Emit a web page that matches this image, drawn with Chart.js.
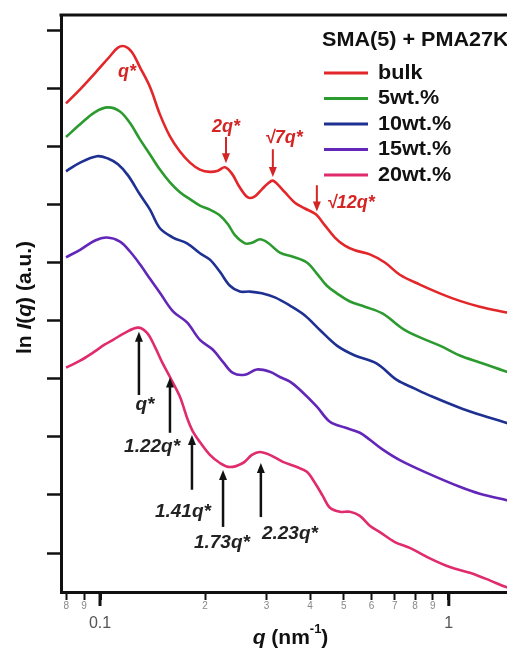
<!DOCTYPE html>
<html>
<head>
<meta charset="utf-8">
<script src="https://cdn.jsdelivr.net/npm/chart.js@4.4.1/dist/chart.umd.min.js"></script>
<style>
  html, body { margin: 0; padding: 0; background: #fff; overflow: hidden; }
  #wrap { width: 530px; height: 650px; }
</style>
</head>
<body>
<div id="wrap"><canvas id="saxs-chart" width="530" height="650"></canvas></div>
<script>
// q in nm^-1, ln I(q) in arbitrary units (curves are offset)
const qBulk = [0.0799,0.0877,0.0968,0.1068,0.1126,0.1179,0.1235,0.1302,0.1391,0.1485,0.1587,0.1695,0.1811,0.1934,0.2066,0.2178,0.2281,0.2389,0.2518,0.2655,0.2780,0.2911,0.3029,0.3130,0.3236,0.3389,0.3620,0.3867,0.4158,0.4413,0.4714,0.5035,0.5379,0.5938,0.6556,0.7237,0.8259,0.9424,1.0753,1.2270,1.4662,1.5974];
const lnBulk = [8.74,8.98,9.26,9.55,9.70,9.72,9.62,9.36,9.02,8.55,8.17,7.91,7.72,7.60,7.56,7.58,7.64,7.53,7.29,7.12,7.14,7.26,7.36,7.41,7.34,7.21,7.03,6.93,6.83,6.64,6.43,6.29,6.21,6.14,6.00,5.79,5.62,5.47,5.34,5.24,5.14,5.09];

const q5 = [0.0799,0.0877,0.0968,0.1054,0.1141,0.1219,0.1302,0.1391,0.1485,0.1587,0.1695,0.1811,0.1934,0.2066,0.2207,0.2327,0.2437,0.2603,0.2726,0.2873,0.3029,0.3279,0.3573,0.3918,0.4185,0.4472,0.4777,0.5204,0.5745,0.6469,0.7384,0.8425,0.9424,1.0753,1.2270,1.4662,1.5974];
const ln5 = [8.16,8.38,8.59,8.67,8.60,8.40,8.12,7.86,7.60,7.38,7.21,7.09,6.98,6.91,6.81,6.66,6.47,6.33,6.34,6.40,6.34,6.17,6.10,6.00,5.81,5.60,5.47,5.33,5.24,5.12,4.86,4.69,4.57,4.40,4.28,4.12,4.05];

const q10 = [0.0799,0.0877,0.0980,0.1054,0.1126,0.1203,0.1302,0.1391,0.1485,0.1619,0.1776,0.1934,0.2066,0.2207,0.2358,0.2518,0.2690,0.2911,0.3172,0.3503,0.3867,0.4270,0.4777,0.5379,0.6219,0.7096,0.7991,0.8822,1.0967,1.3106,1.4662,1.5974];
const ln10 = [7.57,7.72,7.83,7.79,7.69,7.50,7.17,6.91,6.59,6.43,6.33,6.16,6.05,5.84,5.60,5.50,5.50,5.47,5.40,5.26,5.09,4.84,4.57,4.40,4.26,3.98,3.83,3.71,3.48,3.33,3.24,3.17];

const q15 = [0.0799,0.0877,0.0968,0.1047,0.1141,0.1219,0.1302,0.1391,0.1485,0.1619,0.1776,0.1934,0.2107,0.2251,0.2405,0.2603,0.2817,0.3069,0.3279,0.3503,0.3742,0.4185,0.4561,0.5035,0.5559,0.5938,0.6469,0.7237,0.8650,1.0753,1.2270,1.4662,1.5974];
const ln15 = [6.09,6.22,6.38,6.43,6.36,6.19,5.97,5.72,5.48,5.16,4.97,4.67,4.50,4.29,4.10,4.07,4.16,4.12,4.03,3.95,3.81,3.52,3.26,3.16,3.07,2.95,2.78,2.60,2.38,2.14,2.02,1.91,1.86];

const q20 = [0.0799,0.0877,0.0955,0.1033,0.1090,0.1179,0.1285,0.1364,0.1437,0.1505,0.1587,0.1695,0.1776,0.1847,0.1934,0.2066,0.2207,0.2358,0.2569,0.2726,0.2873,0.3069,0.3345,0.3669,0.3918,0.4130,0.4355,0.4561,0.4872,0.5204,0.5559,0.5938,0.6343,0.7003,0.7731,0.8822,1.0067,1.1486,1.3106,1.4662,1.5974];
const ln20 = [4.19,4.31,4.45,4.59,4.67,4.79,4.88,4.79,4.55,4.29,4.03,3.69,3.33,3.09,2.91,2.69,2.55,2.48,2.55,2.69,2.74,2.69,2.57,2.48,2.40,2.21,1.98,1.78,1.71,1.71,1.64,1.47,1.36,1.19,1.09,0.91,0.76,0.66,0.53,0.41,0.36];

const seriesLabels = ['bulk', '5wt.%', '10wt.%', '15wt.%', '20wt.%'];
const seriesColors = ['#e2262a', '#2b9a2f', '#1e3192', '#6226b8', '#e02b6c'];
const legendTitle = 'SMA(5) + PMA27K';

const xTickValues = [0.08, 0.09, 0.1, 0.2, 0.3, 0.4, 0.5, 0.6, 0.7, 0.8, 0.9, 1];
const xTickLabels = ['8', '9', '0.1', '2', '3', '4', '5', '6', '7', '8', '9', '1'];
const xMajorTicks = [0.1, 1];
const yTickValues = [1, 2, 3, 4, 5, 6, 7, 8, 9, 10];

// peak assignments: [q, lnI] for the arrow tail, head and the label
const redMarks = [
    { text: 'q*', lx: 0.1195, ly: 9.27 },
    { text: '2q*', lx: 0.2297, ly: 8.33, ax: 0.2297, from: 8.16, to: 7.71 },
    { text: '\u221A7q*', lx: 0.3367, ly: 8.14, ax: 0.313, from: 7.95, to: 7.47 },
    { text: '\u221A12q*', lx: 0.4472, ly: 7.03, ax: 0.4185, from: 7.33, to: 6.88, left: true }
];
const blackMarks = [
    { text: 'q*', lx: 0.1346, ly: 3.55, ax: 0.1293, from: 3.72, to: 4.81 },
    { text: '1.22q*', lx: 0.141, ly: 2.83, ax: 0.1587, from: 3.07, to: 4.02 },
    { text: '1.41q*', lx: 0.1729, ly: 1.71, ax: 0.1835, from: 2.09, to: 3.03 },
    { text: '1.73q*', lx: 0.2236, ly: 1.17, ax: 0.2253, from: 1.45, to: 2.43 },
    { text: '2.23q*', lx: 0.3503, ly: 1.34, ax: 0.2892, from: 1.62, to: 2.55 }
];

const FONT = '"Liberation Sans", Arial, sans-serif';
const qs = [qBulk, q5, q10, q15, q20];
const lns = [lnBulk, ln5, ln10, ln15, ln20];

const datasets = seriesLabels.map((label, i) => ({
    label: label,
    data: qs[i].map((q, j) => ({ x: q, y: lns[i][j] })),
    borderColor: seriesColors[i],
    borderWidth: 2.6,
    pointRadius: 0,
    tension: 0.35,
    fill: false
}));

function drawArrow(ctx, x, y1, y2, color, width) {
    const dir = y2 > y1 ? 1 : -1;
    ctx.strokeStyle = color;
    ctx.fillStyle = color;
    ctx.lineWidth = width;
    ctx.beginPath();
    ctx.moveTo(x, y1);
    ctx.lineTo(x, y2 - dir * 6);
    ctx.stroke();
    ctx.beginPath();
    ctx.moveTo(x, y2);
    ctx.lineTo(x - 4, y2 - dir * 10);
    ctx.lineTo(x + 4, y2 - dir * 10);
    ctx.closePath();
    ctx.fill();
}

function drawRich(ctx, parts, x, y) {
    let total = 0;
    parts.forEach(p => { ctx.font = p.font; p.w = ctx.measureText(p.text).width; total += p.w; });
    let cx = x - total / 2;
    parts.forEach(p => {
        ctx.font = p.font;
        ctx.fillText(p.text, cx, y + (p.dy || 0));
        cx += p.w;
    });
}

// text slightly wider than the font, as in the original figure
function wideText(ctx, text, x, y, stretch) {
    ctx.save();
    ctx.translate(x, y);
    ctx.scale(stretch, 1);
    ctx.fillText(text, 0, 0);
    ctx.restore();
}

const decorPlugin = {
    id: 'decor',
    afterDatasetsDraw(chart) {
        const ctx = chart.ctx;
        const xs = chart.scales.x, ys = chart.scales.y;
        const area = chart.chartArea;
        ctx.save();

        // top frame line
        ctx.strokeStyle = '#111';
        ctx.lineWidth = 3;
        ctx.beginPath();
        ctx.moveTo(area.left - 1.5, area.top);
        ctx.lineTo(chart.width, area.top);
        ctx.stroke();

        // longer marks for the decades
        ctx.lineWidth = 3;
        xMajorTicks.forEach(v => {
            const px = xs.getPixelForValue(v);
            ctx.beginPath();
            ctx.moveTo(px, area.bottom);
            ctx.lineTo(px, area.bottom + 14);
            ctx.stroke();
        });

        // red peak marks (bulk)
        ctx.textBaseline = 'middle';
        redMarks.forEach(m => {
            if (m.ax) drawArrow(ctx, xs.getPixelForValue(m.ax), ys.getPixelForValue(m.from), ys.getPixelForValue(m.to), '#d42424', 2);
            ctx.fillStyle = '#d42424';
            ctx.font = 'italic bold 18px ' + FONT;
            ctx.textAlign = m.left ? 'left' : 'center';
            ctx.fillText(m.text, xs.getPixelForValue(m.lx), ys.getPixelForValue(m.ly));
        });

        // black peak marks (20wt.%)
        blackMarks.forEach(m => {
            drawArrow(ctx, xs.getPixelForValue(m.ax), ys.getPixelForValue(m.from), ys.getPixelForValue(m.to), '#111', 2.5);
            ctx.fillStyle = '#222';
            ctx.font = 'italic bold 19px ' + FONT;
            ctx.textAlign = 'center';
            ctx.fillText(m.text, xs.getPixelForValue(m.lx), ys.getPixelForValue(m.ly));
        });

        // legend
        const lx = area.left + 261;
        ctx.textAlign = 'left';
        ctx.fillStyle = '#111';
        ctx.font = 'bold 20px ' + FONT;
        wideText(ctx, legendTitle, lx, area.top + 25, 1.08);
        chart.data.datasets.forEach((ds, i) => {
            const y = area.top + 58 + i * 25.5;
            ctx.strokeStyle = ds.borderColor;
            ctx.lineWidth = 3;
            ctx.beginPath();
            ctx.moveTo(lx + 2, y);
            ctx.lineTo(lx + 46, y);
            ctx.stroke();
            ctx.fillStyle = '#111';
            wideText(ctx, ds.label, lx + 56, y, 1.08);
        });

        // axis titles
        ctx.fillStyle = '#111';
        ctx.textAlign = 'left';
        ctx.save();
        ctx.translate(25, (area.top + area.bottom) / 2 - 6);
        ctx.rotate(-Math.PI / 2);
        drawRich(ctx, [
            { text: 'ln ', font: 'bold 21px ' + FONT },
            { text: 'I', font: 'italic bold 21px ' + FONT },
            { text: '(', font: 'bold 21px ' + FONT },
            { text: 'q', font: 'italic bold 21px ' + FONT },
            { text: ') (a.u.)', font: 'bold 21px ' + FONT }
        ], 0, 0);
        ctx.restore();

        drawRich(ctx, [
            { text: 'q', font: 'italic bold 21px ' + FONT },
            { text: ' (nm', font: 'bold 21px ' + FONT },
            { text: '-1', font: 'bold 13px ' + FONT, dy: -9 },
            { text: ')', font: 'bold 21px ' + FONT }
        ], (area.left + area.right) / 2, 638);

        ctx.restore();
    }
};

const isMajor = c => c.tick && xMajorTicks.includes(c.tick.value);

const ctx = document.getElementById('saxs-chart').getContext('2d');
new Chart(ctx, {
    type: 'line',
    data: { datasets: datasets },
    options: {
        responsive: false,
        animation: false,
        devicePixelRatio: 1,
        layout: { padding: { top: 15, right: 10, left: 0, bottom: 0 } },
        plugins: { legend: { display: false }, tooltip: { enabled: false } },
        scales: {
            x: {
                type: 'logarithmic',
                min: 0.0773,
                max: 1.6,
                afterBuildTicks: scale => { scale.ticks = xTickValues.map(v => ({ value: v })); },
                afterFit: scale => { scale.height = 58; },
                border: { display: true, color: '#111', width: 3 },
                grid: {
                    drawOnChartArea: false,
                    drawTicks: true,
                    tickLength: 8,
                    tickColor: '#111',
                    tickWidth: c => isMajor(c) ? 3 : 2
                },
                ticks: {
                    autoSkip: false,
                    maxRotation: 0,
                    padding: 1,
                    callback: (value, index) => {
                        const lab = xTickLabels[index];
                        return xMajorTicks.includes(xTickValues[index]) ? ['', lab] : lab;
                    },
                    font: c => isMajor(c) ? { family: FONT, size: 16, lineHeight: 0.95 } : { family: FONT, size: 10, lineHeight: 1 },
                    color: c => isMajor(c) ? '#555' : '#888'
                }
            },
            y: {
                type: 'linear',
                min: 0.33,
                max: 10.26,
                afterBuildTicks: scale => { scale.ticks = yTickValues.map(v => ({ value: v })); },
                afterFit: scale => { scale.width = 61; },
                border: { display: true, color: '#111', width: 3 },
                grid: {
                    drawOnChartArea: false,
                    drawTicks: true,
                    tickLength: 14,
                    tickColor: '#111',
                    tickWidth: 2.5
                },
                ticks: { callback: () => '', padding: 0 }
            }
        }
    },
    plugins: [decorPlugin]
});
</script>
</body>
</html>
